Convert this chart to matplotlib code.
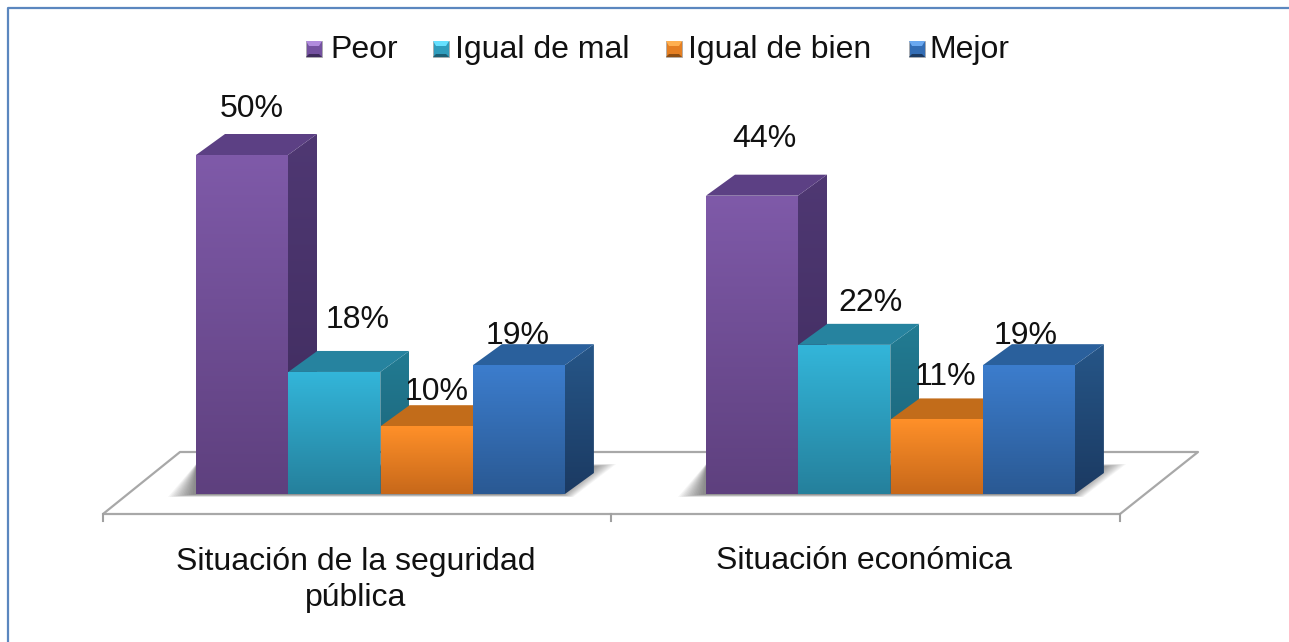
import numpy as np
import matplotlib
matplotlib.use("Agg")
import matplotlib.pyplot as plt
from matplotlib.patches import Polygon, Rectangle
from matplotlib.colors import LinearSegmentedColormap

# ---- data ----
categories = ["Situación de la seguridad\npública", "Situación económica"]
series = ["Peor", "Igual de mal", "Igual de bien", "Mejor"]
peor = [50, 44]
igual_mal = [18, 22]
igual_bien = [10, 11]
mejor = [19, 19]
values = [peor, igual_mal, igual_bien, mejor]

# ---- styles ----
front_top = ["#7F5AA9", "#33B6DA", "#FF9029", "#3C7DCD"]
front_bot = ["#5E407E", "#25809C", "#C7681A", "#2A5993"]
top_col = ["#5C4084", "#26839F", "#C26C1A", "#2A609C"]
side_top = ["#4F3873", "#227C93", "#A85C16", "#265688"]
side_bot = ["#3E2B5C", "#1B5F75", "#8E4E12", "#1B3A62"]
legend_mid = ["#7451A0", "#2F9DBD", "#E57F22", "#336DB5"]
legend_light = ["#B08BDD", "#66E0FF", "#FFB050", "#6AA8F0"]
legend_x = [306, 433, 666, 909]
legend_text_x = [330, 455, 688, 929]
label_pos = [[(252, 109), (358, 320), (437, 392), (518, 336)],
             [(764, 139), (870, 303), (945, 377), (1026, 336)]]
FONT = "Liberation Sans"
FS = 23

W, H = 1289, 642
BASE, PX = 494.0, 6.78
GROUP_X = [196, 706]
BAR_W, BAR_STEP = 92, 92.3
DX, DY = 29, 21

fig = plt.figure(figsize=(W / 100, H / 100), dpi=100, facecolor="white")
ax = fig.add_axes([0, 0, 1, 1])
ax.axis("off")


def grad(poly, c1, c2, z, bbox):
    cmap = LinearSegmentedColormap.from_list("g", [c1, c2])
    x0, x1, y0, y1 = bbox
    im = ax.imshow(np.linspace(0, 1, 256)[:, None], cmap=cmap, extent=[x0, x1, y1, y0],
                   aspect="auto", zorder=z, interpolation="bilinear")
    p = Polygon(poly, closed=True, transform=ax.transData, fc="none", ec="none")
    ax.add_patch(p)
    im.set_clip_path(p)


# frame
ax.plot([7.5, 7.5, W], [H, 7.5, 7.5], color="#5B87BF", lw=1.6, zorder=1)

# floor
FY, BY = 514, 452
ax.add_patch(Polygon([(103, FY), (1120, FY), (1198, BY), (180, BY)], closed=True,
                     fc="white", ec="#A8A8A8", lw=1.6, zorder=2, joinstyle="round"))
for tx in (102.5, 611, 1120):
    ax.plot([tx, tx], [FY, 521], color="#A0A0A0", lw=1.5, zorder=2)

# floor shadows
for gx in GROUP_X:
    x0, x1 = gx, gx + 4 * BAR_STEP
    for i in range(14):
        grow = i * 1.9
        ax.add_patch(Polygon([(x0 - 28 + grow, 497 - i * 0.2), (x1 + 8 - i, 497 - i * 0.2),
                              (x1 + DX + 22 - grow, 464 + i * 0.2), (x0, 464 + i * 0.2)],
                             closed=True, fc="black", ec="none", alpha=0.04, zorder=3))

# bars
z = 4.0
for g, gx in enumerate(GROUP_X):
    for s in range(4):
        x0 = gx + s * BAR_STEP
        x1 = x0 + BAR_W
        top = BASE - values[s][g] * PX
        side = [(x1, top), (x1 + DX, top - DY), (x1 + DX, BASE - DY), (x1, BASE)]
        grad(side, side_top[s], side_bot[s], z, (x1, x1 + DX, top - DY, BASE))
        ax.add_patch(Polygon([(x0, top), (x1, top), (x1 + DX, top - DY), (x0 + DX, top - DY)],
                             closed=True, fc=top_col[s], ec="none", zorder=z + 0.1, joinstyle="round"))
        front = [(x0, top), (x1, top), (x1, BASE), (x0, BASE)]
        grad(front, front_top[s], front_bot[s], z + 0.2, (x0, x1, top, BASE))
        z += 1

# value labels
for g in range(2):
    for s in range(4):
        lx, ly = label_pos[g][s]
        ax.text(lx, ly, f"{values[s][g]}%", ha="center", va="center", fontsize=FS,
                family=FONT, color="#111111", zorder=30)

# category labels
ax.text(356, 580, categories[0], ha="center", va="center", fontsize=FS, family=FONT,
        color="#111111", linespacing=1.27, zorder=30)
ax.text(864, 561, categories[1], ha="center", va="center", fontsize=FS, family=FONT,
        color="#111111", zorder=30)

# legend
LY0, LS = 41, 16
for s, name in enumerate(series):
    x = legend_x[s]
    ax.add_patch(Rectangle((x, LY0), LS, LS, fc=legend_mid[s], ec="#AAAAAA", lw=0.6, zorder=20))
    b = 3
    ax.add_patch(Polygon([(x, LY0), (x + LS, LY0), (x + LS - b, LY0 + b + 2), (x + b, LY0 + b + 2)],
                         closed=True, fc=legend_light[s], ec="none", zorder=21))
    ax.add_patch(Polygon([(x, LY0 + LS), (x + LS, LY0 + LS), (x + LS - b, LY0 + LS - b), (x + b, LY0 + LS - b)],
                         closed=True, fc=side_bot[s], ec="none", zorder=21))
    ax.text(legend_text_x[s], 50, name, ha="left", va="center", fontsize=FS, family=FONT,
            color="#111111", zorder=30)

ax.set_xlim(0, W)
ax.set_ylim(H, 0)
fig.savefig("out.png", dpi=100, facecolor="white")
